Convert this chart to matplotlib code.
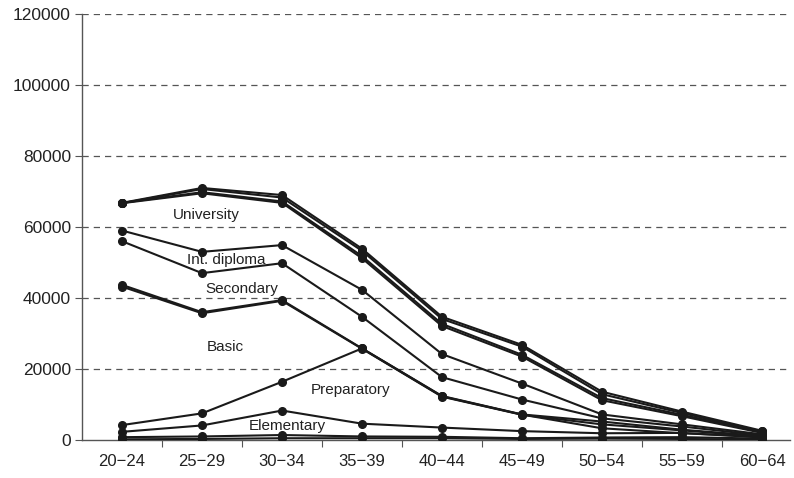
import matplotlib
matplotlib.use("Agg")
import matplotlib.pyplot as plt
from matplotlib.ticker import FixedLocator, NullFormatter, FixedFormatter

plt.rcParams['font.family'] = ['Liberation Sans', 'DejaVu Sans']

age_groups = ["20\u221224", "25\u221229", "30\u221234", "35\u221239", "40\u221244",
              "45\u221249", "50\u221254", "55\u221259", "60\u221264"]

# cumulative lines, top to bottom
top_1 = [66800, 71000, 69000, 53900, 34700, 26800, 13600, 8000, 2600]
top_2 = [66700, 70700, 68300, 53300, 34100, 26300, 12900, 7600, 2400]
top_3 = [66800, 69800, 67200, 51800, 32700, 24000, 11800, 7100, 2200]
top_4 = [66700, 69500, 66800, 51200, 32100, 23500, 11200, 6700, 2000]
int_diploma_top = [59000, 53000, 54900, 42300, 24200, 15900, 7200, 4400, 1600]
secondary_top = [56000, 47000, 49800, 34700, 17700, 11400, 6100, 3800, 1300]
basic_top_1 = [43700, 36000, 39400, 25800, 12400, 7200, 5200, 2900, 1100]
basic_top_2 = [43200, 35700, 39200, 25700, 12200, 7100, 4400, 2700, 1000]
preparatory_top = [4200, 7500, 16400, 25800, 12300, 7150, 3300, 1900, 900]
elementary_top = [2300, 4100, 8300, 4600, 3500, 2500, 1900, 2000, 700]
low_1 = [800, 1000, 1400, 1000, 900, 500, 700, 800, 400]
low_2 = [200, 300, 500, 500, 500, 300, 400, 300, 100]

series = [top_1, top_2, top_3, top_4, int_diploma_top, secondary_top,
          basic_top_1, basic_top_2, preparatory_top, elementary_top, low_1, low_2]

band_labels = ["University", "Int. diploma", "Secondary", "Basic", "Preparatory", "Elementary"]
band_pos = [(1.05, 63500), (1.3, 50700), (1.5, 42600), (1.29, 26200), (2.86, 14000), (2.07, 3900)]

y_ticks = [0, 20000, 40000, 60000, 80000, 100000, 120000]

fig = plt.figure(figsize=(7.94, 4.78), dpi=100)
ax = fig.add_axes([82/794, 38/478, 708/794, 426/478])

x = list(range(len(age_groups)))
for s in series:
    ax.plot(x, s, color='#1a1a1a', lw=1.5, marker='o', ms=5.5, zorder=3)

for lab, (px, py) in zip(band_labels, band_pos):
    ax.text(px, py, lab, ha='center', va='center', fontsize=11, color='#222222', zorder=4)

ax.set_xlim(-0.5, 8.35)
ax.set_ylim(0, 120000)
ax.set_yticks(y_ticks)
ax.set_yticklabels([str(v) for v in y_ticks])
for v in y_ticks[1:]:
    ax.axhline(v, color='#555555', lw=0.9, ls=(0, (5, 4)), zorder=1)

ax.xaxis.set_major_locator(FixedLocator([i + 0.5 for i in range(8)]))
ax.xaxis.set_major_formatter(NullFormatter())
ax.xaxis.set_minor_locator(FixedLocator(x))
ax.xaxis.set_minor_formatter(FixedFormatter(age_groups))
ax.tick_params(axis='x', which='major', length=5, color='#555555', direction='out')
ax.tick_params(axis='x', which='minor', length=0, pad=10, labelsize=12, labelcolor='#222222')
ax.tick_params(axis='y', length=5, color='#555555', labelsize=12.5, labelcolor='#222222', pad=3)

for side in ['top', 'right']:
    ax.spines[side].set_visible(False)
for side in ['left', 'bottom']:
    ax.spines[side].set_color('#555555')
    ax.spines[side].set_linewidth(1.0)

fig.savefig('out.png', dpi=100)
